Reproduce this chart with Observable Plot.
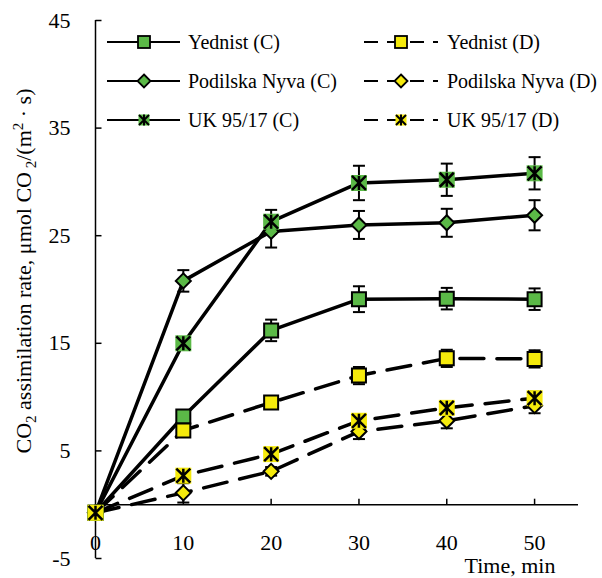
<!DOCTYPE html>
<html><head><meta charset="utf-8">
<script src="https://cdn.jsdelivr.net/npm/d3@7"></script>
<script src="https://cdn.jsdelivr.net/npm/@observablehq/plot@0.6"></script>
<style>
body{margin:0;background:#fff}
#chart{position:relative;width:602px;height:578px;overflow:hidden}
#chart svg text{font-family:'Liberation Serif','Times New Roman',serif}
</style>
</head><body><div id="chart"></div>
<script>
// ---- data ----
const times = [0, 10, 20, 30, 40, 50];
const yTicks = [-5, 5, 15, 25, 35, 45];
const xTicks = [0, 10, 20, 30, 40, 50];

const yednistC     = [-0.75, 8.2, 16.2, 19.1, 19.15, 19.1];
const yednistCErr  = [0, 0.5, 1.0, 1.2, 1.0, 1.0];
const yednistD     = [-0.75, 6.9, 9.5, 12.0, 13.6, 13.55];
const yednistDErr  = [0, 0.4, 0.5, 0.8, 0.8, 0.8];
const podilskaC    = [-0.75, 20.8, 25.4, 26.0, 26.2, 26.9];
const podilskaCErr = [0, 1.0, 1.5, 1.3, 1.3, 1.4];
const podilskaD    = [-0.75, 1.1, 3.1, 6.8, 7.8, 9.2];
const podilskaDErr = [0, 0.9, 0.4, 0.7, 0.7, 0.7];
const ukC          = [-0.75, 15.0, 26.3, 29.9, 30.2, 30.8];
const ukCErr       = [0, 0.5, 1.1, 1.6, 1.5, 1.5];
const ukD          = [-0.75, 2.7, 4.7, 7.8, 9.0, 9.9];
const ukDErr       = [0, 0.4, 0.4, 0.6, 0.5, 0.6];

const seriesNames = ["Yednist (C)", "Yednist (D)", "Podilska Nyva (C)", "Podilska Nyva (D)", "UK 95/17 (C)", "UK 95/17 (D)"];

const GREEN = "#5bb947", YELLOW = "#f5ea0c";

const series = [
  {name: seriesNames[0], v: yednistC,  e: yednistCErr,  cond: "C", marker: "square"},
  {name: seriesNames[1], v: yednistD,  e: yednistDErr,  cond: "D", marker: "square"},
  {name: seriesNames[2], v: podilskaC, e: podilskaCErr, cond: "C", marker: "diamond"},
  {name: seriesNames[3], v: podilskaD, e: podilskaDErr, cond: "D", marker: "diamond"},
  {name: seriesNames[4], v: ukC,       e: ukCErr,       cond: "C", marker: "star"},
  {name: seriesNames[5], v: ukD,       e: ukDErr,       cond: "D", marker: "star"}
];
const rows = series.flatMap(s => times.map((t, i) => ({series: s.name, cond: s.cond, marker: s.marker, t, v: s.v[i], e: s.e[i]})));

// ---- custom symbols (pixel-sized) ----
const rad = size => Math.sqrt(size / Math.PI);
const symSquare = {draw(c, s){const r = rad(s); c.rect(-r, -r, 2*r, 2*r);}};
const symDiamond = {draw(c, s){const r = rad(s); c.moveTo(0,-r); c.lineTo(r,0); c.lineTo(0,r); c.lineTo(-r,0); c.closePath();}};
const symStar = {draw(c, s){const r = rad(s); c.moveTo(-r,-r); c.lineTo(r,r); c.moveTo(r,-r); c.lineTo(-r,r); c.moveTo(0,-r); c.lineTo(0,r);}};
const symCap = {draw(c, s){const r = rad(s); c.moveTo(-r,0); c.lineTo(r,0);}};
const symTickRight = {draw(c, s){const r = rad(s); c.moveTo(0,0); c.lineTo(r,0);}};
const symTickUp = {draw(c, s){const r = rad(s); c.moveTo(0,0); c.lineTo(0,-r);}};

const markerMarks = [];
for (const s of series) {
  const data = rows.filter(d => d.series === s.name);
  const fill = s.cond === "C" ? GREEN : YELLOW;
  if (s.marker === "square") {
    markerMarks.push(Plot.dot(data, {x: "t", y: "v", symbol: symSquare, r: 7, fill, stroke: "black", strokeWidth: 2}));
  } else if (s.marker === "diamond") {
    markerMarks.push(Plot.dot(data, {x: "t", y: "v", symbol: symDiamond, r: 7.5, fill, stroke: "black", strokeWidth: 2}));
  } else {
    markerMarks.push(Plot.dot(data, {x: "t", y: "v", symbol: symSquare, r: 8, fill, stroke: "none"}));
    markerMarks.push(Plot.dot(data, {x: "t", y: "v", symbol: symStar, r: 7, fill: "none", stroke: "black", strokeWidth: 2.5}));
  }
}

const errRows = rows.filter(d => d.e > 0);
const FONT = "'Liberation Serif', 'Times New Roman', serif";

const plot = Plot.plot({
  width: 602, height: 578,
  marginLeft: 95, marginRight: 24, marginTop: 20, marginBottom: 20,
  x: {domain: [0, 55]},
  y: {domain: [-5, 45]},
  style: {fontFamily: FONT, fontSize: "22px", color: "black", background: "white", overflow: "visible"},
  marks: [
    Plot.axisY({ticks: yTicks, tickFormat: d => String(d), tickSize: 0, tickPadding: 25, fontSize: 22, label: null}),
    Plot.axisX({ticks: xTicks, tickFormat: d => String(d), tickSize: 0, tickPadding: 0, fontSize: 22, label: null, dy: -24}),
    Plot.ruleX([0], {stroke: "black", strokeWidth: 1.5}),
    Plot.ruleY([0], {stroke: "black", strokeWidth: 1.5}),
    Plot.dot(yTicks, {x: 0, y: d => d, symbol: symTickRight, r: 6, fill: "none", stroke: "black", strokeWidth: 1.5}),
    Plot.dot(xTicks.filter(d => d > 0), {x: d => d, y: 0, symbol: symTickUp, r: 6, fill: "none", stroke: "black", strokeWidth: 1.5}),
    Plot.line(rows.filter(d => d.cond === "C"), {x: "t", y: "v", z: "series", stroke: "black", strokeWidth: 3.5}),
    Plot.line(rows.filter(d => d.cond === "D"), {x: "t", y: "v", z: "series", stroke: "black", strokeWidth: 3.5, strokeDasharray: "24,13", strokeLinecap: "round"}),
    Plot.ruleX(errRows, {x: "t", y1: d => d.v - d.e, y2: d => d.v + d.e, stroke: "black", strokeWidth: 2}),
    Plot.dot(errRows, {x: "t", y: d => d.v + d.e, symbol: symCap, r: 6, fill: "none", stroke: "black", strokeWidth: 2}),
    Plot.dot(errRows, {x: "t", y: d => d.v - d.e, symbol: symCap, r: 6, fill: "none", stroke: "black", strokeWidth: 2}),
    ...markerMarks
  ]
});

document.getElementById("chart").appendChild(plot);

// ---- titles and legend (layout) ----
const svg = d3.select(plot);

const yl = svg.append("text")
  .attr("transform", "translate(31,271) rotate(-90)")
  .attr("text-anchor", "middle")
  .style("font-family", FONT).attr("font-size", 22).attr("fill", "black");
yl.append("tspan").text("CO");
yl.append("tspan").attr("font-size", 15).attr("dy", 5).text("2");
yl.append("tspan").attr("dy", -5).text(" assimilation rate, μmol CO");
yl.append("tspan").attr("font-size", 15).attr("dy", 5).text(" 2");
yl.append("tspan").attr("dy", -5).text("/(m");
yl.append("tspan").attr("font-size", 15).attr("dy", -8).text("2");
yl.append("tspan").attr("dy", 8).text(" · s)");

svg.append("text").attr("x", 510).attr("y", 573).attr("text-anchor", "middle")
  .style("font-family", FONT).attr("font-size", 22).attr("fill", "black").text("Time, min");

const legRows = [42, 81, 120];
const lg = svg.append("g");
function legendMarker(g, kind, fill, cx, cy) {
  if (kind === "square") {
    g.append("rect").attr("x", cx-6).attr("y", cy-6).attr("width", 12).attr("height", 12)
      .attr("fill", fill).attr("stroke", "black").attr("stroke-width", 1.8);
  } else if (kind === "diamond") {
    g.append("path").attr("d", `M${cx},${cy-6.5}L${cx+6.5},${cy}L${cx},${cy+6.5}L${cx-6.5},${cy}Z`)
      .attr("fill", fill).attr("stroke", "black").attr("stroke-width", 1.8);
  } else {
    g.append("rect").attr("x", cx-5.5).attr("y", cy-5.5).attr("width", 11).attr("height", 11).attr("fill", fill);
    g.append("path").attr("d", `M${cx-5},${cy-5}L${cx+5},${cy+5}M${cx+5},${cy-5}L${cx-5},${cy+5}M${cx},${cy-5.5}L${cx},${cy+5.5}`)
      .attr("stroke", "black").attr("stroke-width", 2).attr("fill", "none");
  }
}
series.forEach((s, i) => {
  const row = Math.floor(i / 2), col = i % 2;
  const y = legRows[row];
  const x0 = col === 0 ? 107 : 364, x1 = col === 0 ? 180 : 438, mx = col === 0 ? 144 : 401, tx = col === 0 ? 188 : 447;
  const fill = s.cond === "C" ? GREEN : YELLOW;
  lg.append("line").attr("x1", x0).attr("x2", x1).attr("y1", y).attr("y2", y)
    .attr("stroke", "black").attr("stroke-width", 2)
    .attr("stroke-dasharray", s.cond === "D" ? "14,9" : null);
  legendMarker(lg, s.marker, fill, mx, y);
  lg.append("text").attr("x", tx).attr("y", y).attr("dy", "0.33em")
    .attr("text-anchor", "start")
    .style("font-family", FONT).attr("font-size", 20).attr("fill", "black").text(s.name);
});
</script>
</body></html>
